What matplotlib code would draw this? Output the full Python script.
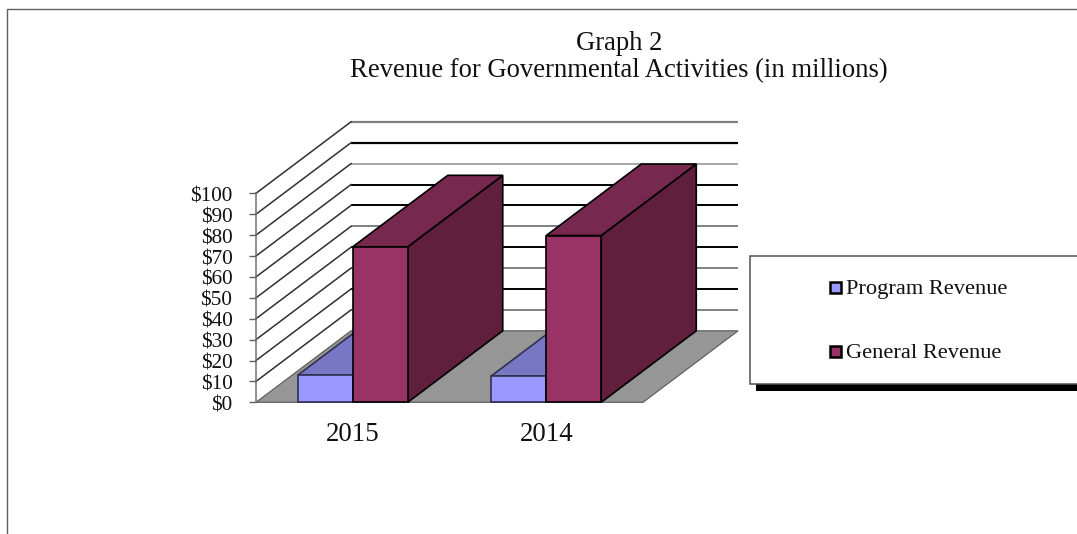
import matplotlib
matplotlib.use("Agg")
import matplotlib.pyplot as plt
from matplotlib.patches import Polygon, Rectangle
from matplotlib.transforms import ScaledTranslation

plt.rcParams['font.family'] = ['Liberation Serif', 'DejaVu Serif']

W, H = 1077, 534

# Chart values
years = ["2015", "2014"]
program_revenue = [13, 12.6]
general_revenue = [74.4, 79.8]
y_ticks = [0, 10, 20, 30, 40, 50, 60, 70, 80, 90, 100]
y_labels = ["$0", "$10", "$20", "$30", "$40", "$50", "$60", "$70", "$80", "$90", "$100"]
series_names = ["Program Revenue", "General Revenue"]
title_lines = ["Graph 2", "Revenue for Governmental Activities (in millions)"]

# Colours
BLUE, BLUE_TOP = "#9999FF", "#7777C4"
MAROON, MAROON_TOP, MAROON_SIDE = "#993366", "#77284F", "#60203D"
FLOOR = "#969696"

fig = plt.figure(figsize=(W / 100, H / 100), dpi=100, facecolor="white")

# Page-level overlay in pixel units for the outer frame and legend box
page = fig.add_axes([0, 0, 1, 1], zorder=0)
page.set_xlim(0, W)
page.set_ylim(H, 0)
page.axis("off")
page.plot([7, 7, W], [H, 9, 9], color="#606060", lw=1.0, solid_joinstyle="miter")

# Plot axes: x in category units, y in dollars (millions)
left, right, base, top = 256, 643, 402.3, 193.3
ax = fig.add_axes([left / W, 1 - base / H, (right - left) / W, (base - top) / H], zorder=1)
ax.patch.set_alpha(0)
ax.set_xlim(0, len(years))
ax.set_ylim(0, 100)
for side in ("top", "right", "bottom"):
    ax.spines[side].set_visible(False)
ax.spines["left"].set_color("#707070")
ax.spines["left"].set_linewidth(1.1)

# Oblique projection offset for the chart depth
DX, DY = 0.491, 34.2
BAR_W, GAP = 0.2842, 0.2158


def add_poly(points, color, edge, z, lw=1.2):
    ax.add_patch(Polygon(points, closed=True, facecolor=color, edgecolor=edge,
                         linewidth=lw, zorder=z, clip_on=False, joinstyle="miter"))


# Floor
n = len(years)
add_poly([(0, 0), (n, 0), (n + DX, DY), (DX, DY)], FLOOR, "#606060", 1, 0.9)

# Wall gridlines: the rendered weight alternates from level to level
grid_styles = {10: ("#808080", 1.4), 20: ("#000000", 1.4), 30: ("#808080", 1.4),
               40: ("#000000", 1.4), 50: ("#808080", 1.4), 60: ("#000000", 1.4),
               70: ("#000000", 1.4), 80: ("#909090", 1.1), 90: ("#000000", 1.6),
               100: ("#808080", 1.6)}
for level, (col, lw) in grid_styles.items():
    ax.plot([DX, n + DX], [level + DY, level + DY], color=col, lw=lw, zorder=2,
            clip_on=False, solid_capstyle="butt")
    ax.plot([0, DX], [level, level + DY], color="#303030", lw=1.1, zorder=2, clip_on=False)


def draw_bar(x0, value, front, top_col, side_col, edge, z):
    x1 = x0 + BAR_W
    if side_col is not None:
        add_poly([(x1, 0), (x1 + DX, DY), (x1 + DX, value + DY), (x1, value)], side_col, edge, z)
    add_poly([(x0, value), (x1, value), (x1 + DX, value + DY), (x0 + DX, value + DY)], top_col, edge, z)
    add_poly([(x0, 0), (x1, 0), (x1, value), (x0, value)], front, edge, z + 0.1)


for i in range(n):
    x_prog = i + GAP
    x_gen = x_prog + BAR_W
    z = 3 + i * 2
    draw_bar(x_prog, program_revenue[i], BLUE, BLUE_TOP, None, "#303050", z)
    draw_bar(x_gen, general_revenue[i], MAROON, MAROON_TOP, MAROON_SIDE, "#000000", z + 1)

# Axis ticks and labels
ax.set_yticks(y_ticks)
ax.set_yticklabels(y_labels, fontsize=15.3, color="#111111")
ax.tick_params(axis="y", length=5, width=1.0, color="#606060", pad=12)
nudge = ScaledTranslation(0, -1 / 100, fig.dpi_scale_trans)
for label in ax.get_yticklabels():
    label.set_transform(label.get_transform() + nudge)
ax.set_xticks([i + 0.5 for i in range(n)])
ax.set_xticklabels(years, fontsize=19.4, color="#111111")
ax.tick_params(axis="x", length=0, pad=14)

# Title
for y, line in zip((43, 71), title_lines):
    page.text(619, y, line, ha="center", va="center", fontsize=19.2, color="#111111")

# Legend box with drop shadow, cut off by the right page edge
page.add_patch(Rectangle((756, 262), W, 129, facecolor="black", edgecolor="none", zorder=2))
page.add_patch(Rectangle((750, 255.5), W, 128.5, facecolor="white", edgecolor="#505050",
                         linewidth=1.1, zorder=3))
for y, text_y, name, col in zip((287.5, 351.5), (289.5, 354), series_names, (BLUE, MAROON)):
    page.add_patch(Rectangle((830, y - 5.5), 11, 11, facecolor=col, edgecolor="black",
                             linewidth=1.8, zorder=4))
    page.text(846, text_y, name, ha="left", va="center", fontsize=16.1, color="#111111", zorder=4)

fig.savefig("out.png", dpi=100, facecolor="white")
